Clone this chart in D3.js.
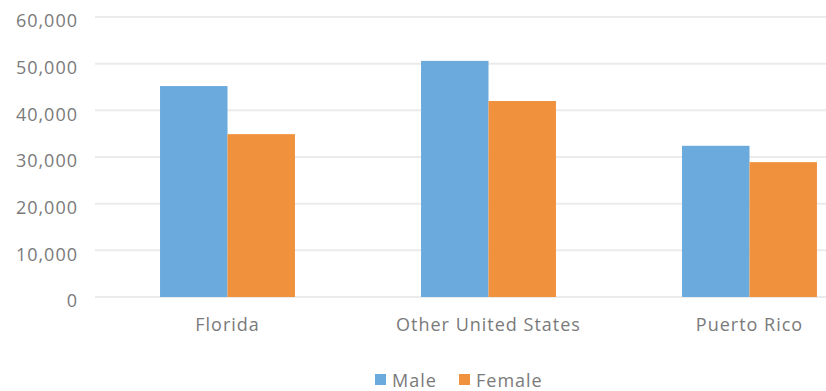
<!DOCTYPE html>
<html>
<head>
<meta charset="utf-8">
<script src="https://cdn.jsdelivr.net/npm/d3@7"></script>
<style>
  html, body { margin: 0; padding: 0; background: #fff; }
  svg { display: block; }
  text { font-family: "Open Sans", sans-serif; fill: #7a7a7a; letter-spacing: 1px; }
</style>
</head>
<body>
<svg id="chart" width="826" height="391"></svg>
<script>
const categories = ["Florida", "Other United States", "Puerto Rico"];
const seriesNames = ["Male", "Female"];
const maleValues = [45200, 50600, 32400];
const femaleValues = [34900, 42000, 28900];
const yTicks = [0, 10000, 20000, 30000, 40000, 50000, 60000];
const colors = ["#6aaadc", "#f0913e"];

const svg = d3.select("#chart");
const plotLeft = 97, plotRight = 880, plotTop = 17, plotBottom = 297;

const y = d3.scaleLinear().domain([0, 60000]).range([plotBottom, plotTop]);
const x0 = d3.scaleBand().domain(categories).range([plotLeft, plotRight])
  .paddingInner(0.483).paddingOuter(0.2415);
const x1 = d3.scaleBand().domain(seriesNames).range([0, x0.bandwidth()]).padding(0);

// gridlines
svg.append("g").selectAll("line").data(yTicks).join("line")
  .attr("x1", plotLeft - 2).attr("x2", 826)
  .attr("y1", d => y(d)).attr("y2", d => y(d))
  .attr("stroke", "#ebebeb").attr("stroke-width", 2);

// y axis labels
const yAxis = d3.axisLeft(y).tickValues(yTicks).tickFormat(d3.format(",")).tickSize(0).tickPadding(0);
const yg = svg.append("g").attr("transform", "translate(78,4)").call(yAxis);
yg.select(".domain").remove();
yg.selectAll("text").style("font-size", "18px").attr("fill", "#7a7a7a").style("font-family", "'Open Sans', sans-serif");

// bars
const data = categories.map((c, i) => ({ cat: c, vals: [maleValues[i], femaleValues[i]] }));
const groups = svg.append("g").selectAll("g").data(data).join("g")
  .attr("transform", d => `translate(${x0(d.cat)},0)`);
groups.selectAll("rect").data(d => d.vals.map((v, j) => ({ name: seriesNames[j], v, j })))
  .join("rect")
  .attr("x", d => x1(d.name))
  .attr("width", x1.bandwidth())
  .attr("y", d => y(d.v))
  .attr("height", d => y(0) - y(d.v))
  .attr("fill", d => colors[d.j]);

// x axis labels
const xAxis = d3.axisBottom(x0).tickSize(0).tickPadding(0);
const xg = svg.append("g").attr("transform", "translate(0,318)").call(xAxis);
xg.select(".domain").remove();
xg.selectAll("text").style("font-size", "18px").attr("fill", "#7a7a7a").style("font-family", "'Open Sans', sans-serif");

// legend
const legendItems = [{ name: "Male", x: 375, tx: 392 }, { name: "Female", x: 459, tx: 476 }];
const lg = svg.append("g");
legendItems.forEach((it, i) => {
  lg.append("rect").attr("x", it.x).attr("y", 374).attr("width", 11).attr("height", 11).attr("fill", colors[i]);
  lg.append("text").attr("x", it.tx).attr("y", 387).style("font-size", "18px").text(it.name);
});
</script>
</body>
</html>
